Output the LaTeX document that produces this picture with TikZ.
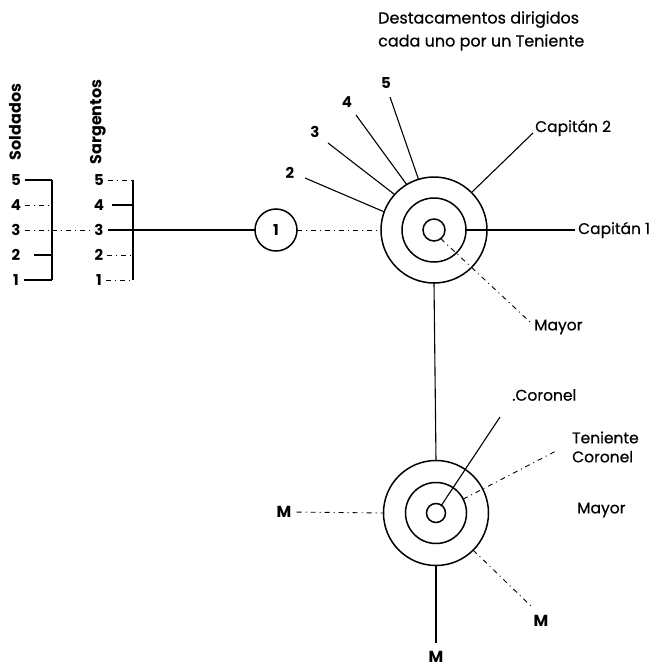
\documentclass[tikz,border=0pt]{standalone}
\usepackage{fontspec}
\setmainfont{Poppins}
\newfontfamily\lblfont{Poppins}[FakeBold=0.5]
\begin{document}
\begin{tikzpicture}[x=1pt,y=-1pt,
  ring/.style={circle,draw,line width=1.5pt,inner sep=0pt,outer sep=0pt},
  lbl/.style={font=\lblfont\fontsize{15.5}{18}\selectfont, inner sep=0pt},
  num/.style={font=\fontsize{15}{16}\selectfont\bfseries, inner sep=0pt},
  link/.style={line width=1.1pt},
  heavy/.style={line width=1.6pt},
  faint/.style={line width=0.9pt, dash pattern=on 5pt off 4pt on 1pt off 4pt},
]
\useasboundingbox (0,0) rectangle (654,669);

% ---- title
\node[lbl, anchor=west, align=left, font=\lblfont\fontsize{16}{23}\selectfont] (title) at (378,31)
  {Destacamentos dirigidos\\cada uno por un Teniente};

% ---- Soldados
\node[num, rotate=90, font=\fontsize{16}{17}\selectfont\bfseries] (sold) at (15,122) {Soldados};
\node[num, rotate=90, font=\fontsize{16}{17}\selectfont\bfseries] (sarg) at (98,122) {Sargentos};
\foreach \i/\y in {5/180,4/205,3/230,2/255,1/280}{
  \node[num] (s\i) at (16,\y) {\i};
  \node[num] (g\i) at (99,\y) {\i};
  \coordinate (sb\i) at (52,\y);
  \coordinate (gb\i) at (133,\y);
}
\draw[link] (sb5) -- (sb1);
\draw[link] (gb5) -- (gb1);
\draw[link, shorten <=4pt] (s5.east) -- (sb5);
\draw[faint, shorten <=4pt] (s4.east) -- (sb4);
\draw[faint, shorten <=4pt] (s3.east) -- (sb3);
\draw[link, shorten <=14pt] (s2.east) -- (sb2);
\draw[link, shorten <=5pt] (s1.east) -- (sb1);
\draw[faint, shorten >=4pt] (sb3) -- (g3.west);
\draw[faint, shorten <=4pt] (g5.east) -- (gb5);
\draw[link, shorten <=8pt] (g4.east) -- (gb4);
\draw[faint, shorten <=4pt] (g2.east) -- (gb2);
\draw[faint, shorten <=4pt] (g1.east) -- (gb1);

% ---- circle 1
\node[ring, minimum size=42pt, num] (one) at (276,230) {1};
\draw[heavy, shorten <=4pt] (g3.east) -- (one.west);

% ---- upper rings
\node[ring, minimum size=106pt] (U3) at (434,230) {};
\node[ring, minimum size=64pt] (U2) at (434,230) {};
\node[ring, minimum size=22pt] (U1) at (434,230) {};
\draw[faint] (one.east) -- (U3.west);

\node[num] (n2) at (290,173) {2};
\node[num] (n3) at (315,132) {3};
\node[num] (n4) at (347,102) {4};
\node[num] (n5) at (386,83) {5};
\coordinate (e2) at (305,178);
\coordinate (e3) at (328,143);
\coordinate (e4) at (356,115);
\coordinate (e5) at (390,97);
\draw[link] (e2) -- (U3.160);
\draw[link] (e3) -- (U3.138);
\draw[link] (e4) -- (U3.121);
\draw[link] (e5) -- (U3.107);

\node[lbl, anchor=west] (cap2) at (535,128) {Capitán 2};
\coordinate (c2) at (533,133);
\draw[link] (U3.45) -- (c2);

\node[lbl, anchor=west] (cap1) at (578,230) {Capitán 1};
\draw[link, shorten >=3pt] (U2.east) -- (cap1.west);

\node[lbl, anchor=west] (may1) at (534,327) {Mayor};
\coordinate (m1) at (530,322);
\draw[faint] (U1.-52) -- (m1);

% ---- connection
\node[ring, minimum size=105pt] (L3) at (436,513) {};
\node[ring, minimum size=61pt] (L2) at (436,513) {};
\node[ring, minimum size=19pt] (L1) at (436,513) {};
\draw[link] (U3.south) -- (L3.north);

% ---- lower labels
\node[num, font=\fontsize{16}{17}\selectfont\bfseries] (mleft) at (284,512) {M};
\draw[faint, shorten <=5pt] (mleft.east) -- (L3.west);

\coordinate (mb) at (436,643);
\node[num, font=\fontsize{16}{17}\selectfont\bfseries] (mbot) at (436,657) {M};
\draw[link] (L3.south) -- (mb);

\coordinate (mr) at (533,608);
\node[num, font=\fontsize{16}{17}\selectfont\bfseries] (mright) at (541,621) {M};
\draw[faint] (L3.-45) -- (mr);

\node[lbl, anchor=west] (cor) at (512,395) {.Coronel};
\coordinate (cc) at (500,417);
\draw[link] (L1.55) -- (cc);

\node[lbl, anchor=west, align=left, font=\lblfont\fontsize{15.5}{19}\selectfont] (tc) at (572,447) {Teniente\\Coronel};
\coordinate (tcc) at (558,450);
\draw[faint] (L2.27) -- (tcc);

\node[lbl, anchor=west] (may2) at (577,510) {Mayor};
\end{tikzpicture}
\end{document}
